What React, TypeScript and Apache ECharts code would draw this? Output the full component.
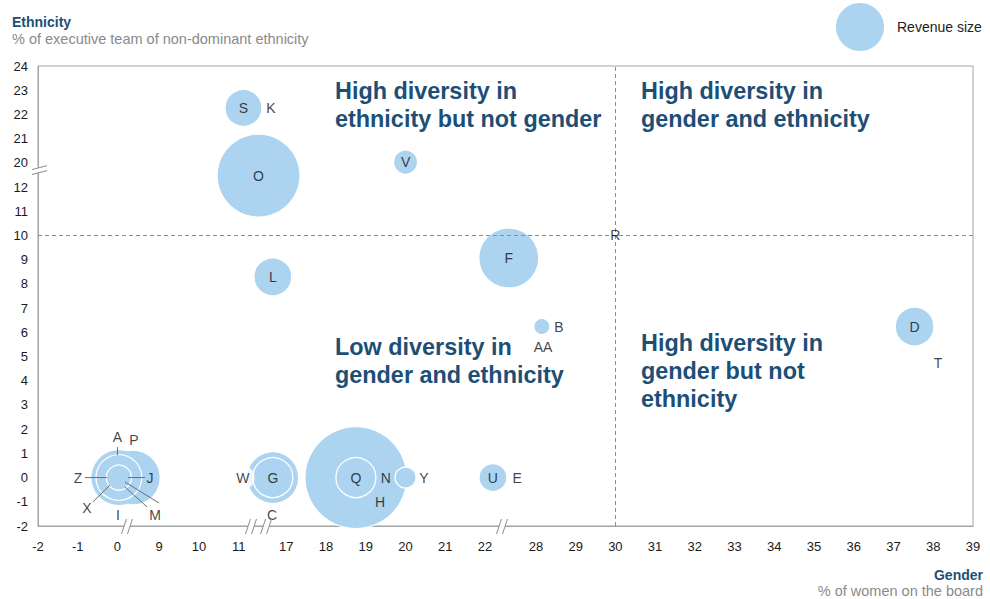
import React, { useEffect, useRef } from 'react';
import * as echarts from 'echarts';

// ---- axes (broken) ----
const xTickLabels = [-2, -1, 0, 9, 10, 11, 17, 18, 19, 20, 21, 22, 28, 29, 30, 31, 32, 33, 34, 35, 36, 37, 38, 39];
const xBreakAfter = [0, 11, 22];
const xBreakGap = [0.05, 0.2, 0.28];
const yTickLabels = [-2, -1, 0, 1, 2, 3, 4, 5, 6, 7, 8, 9, 10, 11, 12, 20, 21, 22, 23, 24];
const yBreakAfter = [12];
const yBreakGap = [0];

// ---- bubbles: gender (% women on board), ethnicity (% exec team), revenue ----
const bubbleNames = ['H', 'O', 'F', 'P', 'A', 'W', 'X', 'G', 'Q', 'D', 'L', 'S', 'U', 'M', 'V', 'Y', 'B'];
const bubbleGender = [18.75, 13.5, 24.8, 3.35, 0.3, 15.3, 0.3, 15.3, 18.75, 37.53, 15.3, 11.6, 22.93, 0.3, 20.0, 20.0, 28.15];
const bubbleEthnicity = [0, 15.8, 9.07, 0, 0, 0, 0, 0, 0, 6.24, 8.29, 22.27, 0, 0, 20.03, 0, 6.24];
const bubbleRevenue = [104, 69, 36, 30, 30, 27, 21, 16, 16, 15, 14.4, 13.7, 7.8, 6.3, 5.8, 4.4, 2.6];
const unoutlinedBubbles = ['A'];

// ---- company labels ----
const labelNames = ['S', 'K', 'O', 'V', 'L', 'F', 'B', 'AA', 'R', 'D', 'T', 'G', 'W', 'C', 'Q', 'N', 'H', 'Y', 'U', 'E', 'A', 'P', 'Z', 'J', 'X', 'M', 'I'];
const labelGender = [11.6, 15.07, 13.5, 20.0, 15.3, 24.8, 28.58, 28.18, 30, 37.53, 38.12, 15.3, 11.54, 15.2, 18.75, 19.5, 19.36, 20.46, 22.93, 25.8, 0, 3.56, -0.99, 7.0, -0.77, 8.1, 0.1];
const labelEthnicity = [22.27, 22.27, 15.8, 20.03, 8.29, 9.07, 6.24, 5.39, 10, 6.24, 4.73, 0, 0, -1.55, 0, 0, -1.0, 0, 0, 0, 1.68, 1.55, 0, 0, -1.26, -1.55, -1.55];

// ---- leader lines ----
const leaderX1 = [0, -0.82, 2.27, -0.62, 1.62, 1.62];
const leaderY1 = [1.26, 0, 0, -1.01, -0.18, -0.39];
const leaderX2 = [0, -0.26, 5.94, -0.19, 8.95, 6.37];
const leaderY2 = [0.93, 0, 0, -0.31, -1.05, -1.21];

// ---- thresholds & break marks ----
const genderThreshold = 30;
const ethnicityThreshold = 10;
const xBreakMarks = [2.05, 12.55, 14.45, 24.0];
const yBreakMarks = [17.6];

const BLUE = '#1d4f76';
const BUBBLE = '#acd3ef';
const GREY_TXT = '#8a8a8a';
const FONT = '"Liberation Sans", Arial, sans-serif';

function buildSlots(ticks: number[], after: number[], gaps: number[]) {
  const slots: number[] = [];
  let extra = 0;
  for (let i = 0; i < ticks.length; i++) {
    if (i > 0) {
      after.forEach((b, k) => {
        if (ticks[i - 1] === b) extra += gaps[k];
      });
    }
    slots.push(i + extra);
  }
  return slots;
}
const xSlots = buildSlots(xTickLabels, xBreakAfter, xBreakGap);
const ySlots = buildSlots(yTickLabels, yBreakAfter, yBreakGap);

function toSlot(v: number, ticks: number[], slots: number[]) {
  let i = 0;
  while (i < ticks.length - 2 && v > ticks[i + 1]) i++;
  const t = (v - ticks[i]) / (ticks[i + 1] - ticks[i]);
  return slots[i] + t * (slots[i + 1] - slots[i]);
}
const xs = (v: number) => toSlot(v, xTickLabels, xSlots);
const ys = (v: number) => toSlot(v, yTickLabels, ySlots);

function findLabel(val: number, slots: number[], labels: number[]) {
  const i = slots.findIndex((s) => Math.abs(s - val) < 1e-4);
  return i >= 0 ? String(labels[i]) : '';
}

export default function App() {
  const ref = useRef<HTMLDivElement>(null);
  useEffect(() => {
    document.body.style.margin = '0';
    if (!ref.current) return;
    const chart = echarts.init(ref.current, undefined, { renderer: 'svg' });

    const bubbleData = bubbleNames.map((n, i) => ({
      name: n,
      value: [xs(bubbleGender[i]), ys(bubbleEthnicity[i])],
      symbolSize: 10 * Math.sqrt(bubbleRevenue[i]),
      itemStyle: unoutlinedBubbles.includes(n)
        ? { borderWidth: 0 }
        : { borderColor: '#ffffff', borderWidth: 1.3 },
    }));

    const labelData = labelNames.map((n, i) => {
      const item: any = { name: n, value: [xs(labelGender[i]), ys(labelEthnicity[i])] };
      if (n === 'W') {
        item.label = { backgroundColor: '#ffffff', padding: [5, 5], borderRadius: 12 };
      }
      return item;
    });

    const leaderData = leaderX1.map((_, i) => [xs(leaderX1[i]), ys(leaderY1[i]), xs(leaderX2[i]), ys(leaderY2[i])]);

    const xMin = xSlots[0];
    const xMax = xSlots[xSlots.length - 1];
    const yMin = ySlots[0];
    const yMax = ySlots[ySlots.length - 1];

    const breakData = [
      ...xBreakMarks.map((v) => [xs(v), yMin, 0]),
      ...yBreakMarks.map((v) => [xMin, ys(v), 1]),
    ];

    const axisColor = '#a3a3a3';

    const option: any = {
      animation: false,
      grid: { left: 38, right: 17, top: 66, bottom: 73, containLabel: false, show: true, borderColor: axisColor, borderWidth: 1 },
      xAxis: {
        type: 'value',
        min: xMin,
        max: xMax,
        splitLine: { show: false },
        axisTick: { show: false },
        axisLine: { show: true, lineStyle: { color: axisColor } },
        axisLabel: {
          customValues: xSlots,
          formatter: (v: number) => findLabel(v, xSlots, xTickLabels),
          color: '#1a1a1a',
          fontSize: 13,
          fontFamily: FONT,
          margin: 14,
        },
      },
      yAxis: {
        type: 'value',
        min: yMin,
        max: yMax,
        interval: 1,
        splitLine: { show: false },
        axisTick: { show: false },
        axisLine: { show: true, lineStyle: { color: axisColor } },
        axisLabel: {
          customValues: ySlots,
          formatter: (v: number) => findLabel(v, ySlots, yTickLabels),
          color: '#1a1a1a',
          fontSize: 13,
          fontFamily: FONT,
          margin: 10,
        },
      },
      series: [
        {
          name: 'Revenue size',
          type: 'scatter',
          data: bubbleData,
          itemStyle: { color: BUBBLE, opacity: 1 },
          emphasis: { disabled: true },
          silent: true,
          z: 2,
          markLine: {
            silent: true,
            symbol: 'none',
            label: { show: false },
            lineStyle: { color: '#8c8c8c', type: [4, 3], width: 1 },
            data: [{ xAxis: xs(genderThreshold) }, { yAxis: ys(ethnicityThreshold) }],
          },
        },
        {
          name: 'leaders',
          type: 'custom',
          data: leaderData,
          encode: { x: [0, 2], y: [1, 3] },
          silent: true,
          z: 4,
          renderItem: (_p: any, api: any) => {
            const a = api.coord([api.value(0), api.value(1)]);
            const b = api.coord([api.value(2), api.value(3)]);
            return {
              type: 'line',
              shape: { x1: a[0], y1: a[1], x2: b[0], y2: b[1] },
              style: { stroke: '#6f6f6f', lineWidth: 1 },
            };
          },
        },
        {
          name: 'labels',
          type: 'scatter',
          data: labelData,
          symbolSize: 1,
          itemStyle: { color: 'rgba(0,0,0,0)' },
          silent: true,
          z: 5,
          label: {
            show: true,
            position: 'inside',
            formatter: (p: any) => p.name,
            color: '#111111',
            fontSize: 14,
            fontFamily: FONT,
          },
        },
        {
          name: 'breaks',
          type: 'custom',
          data: breakData,
          clip: false,
          silent: true,
          z: 10,
          renderItem: (_p: any, api: any) => {
            const p = api.coord([api.value(0), api.value(1)]);
            const vertical = api.value(2) === 1;
            const stroke = { stroke: '#8c8c8c', lineWidth: 1 };
            if (!vertical) {
              return {
                type: 'group',
                children: [
                  { type: 'rect', shape: { x: p[0] - 3, y: p[1] - 2, width: 6, height: 4 }, style: { fill: '#ffffff' } },
                  { type: 'line', shape: { x1: p[0] - 5.5, y1: p[1] + 8, x2: p[0] - 0.5, y2: p[1] - 7 }, style: stroke },
                  { type: 'line', shape: { x1: p[0] + 0.5, y1: p[1] + 8, x2: p[0] + 5.5, y2: p[1] - 7 }, style: stroke },
                ],
              };
            }
            return {
              type: 'group',
              children: [
                { type: 'rect', shape: { x: p[0] - 2, y: p[1] - 2.5, width: 4, height: 5 }, style: { fill: '#ffffff' } },
                { type: 'line', shape: { x1: p[0] - 6, y1: p[1] - 0.5, x2: p[0] + 9, y2: p[1] - 4.5 }, style: stroke },
                { type: 'line', shape: { x1: p[0] - 6, y1: p[1] + 4.5, x2: p[0] + 9, y2: p[1] + 0.5 }, style: stroke },
              ],
            };
          },
        },
      ],
      graphic: [
        { type: 'text', style: { x: 12, y: 21.5, text: 'Ethnicity', font: `bold 14px ${FONT}`, fill: BLUE, verticalAlign: 'middle' } },
        { type: 'text', style: { x: 12, y: 38.5, text: '% of executive team of non-dominant ethnicity', font: `14.5px ${FONT}`, fill: GREY_TXT, verticalAlign: 'middle' } },
        { type: 'text', style: { x: 983, y: 575, text: 'Gender', font: `bold 14px ${FONT}`, fill: BLUE, align: 'right', verticalAlign: 'middle' } },
        { type: 'text', style: { x: 983, y: 590.5, text: '% of women on the board', font: `14.5px ${FONT}`, fill: GREY_TXT, align: 'right', verticalAlign: 'middle' } },
        { type: 'circle', shape: { cx: 860, cy: 27, r: 24 }, style: { fill: BUBBLE } },
        { type: 'text', style: { x: 897, y: 27, text: 'Revenue size', font: `14px ${FONT}`, fill: '#222222', verticalAlign: 'middle' } },
        { type: 'text', style: { x: 335, y: 77, text: 'High diversity in\nethnicity but not gender', font: `bold 23.4px ${FONT}`, lineHeight: 28, fill: BLUE, verticalAlign: 'top' } },
        { type: 'text', style: { x: 641, y: 77, text: 'High diversity in\ngender and ethnicity', font: `bold 23.4px ${FONT}`, lineHeight: 28, fill: BLUE, verticalAlign: 'top' } },
        { type: 'text', style: { x: 335, y: 333, text: 'Low diversity in\ngender and ethnicity', font: `bold 23.4px ${FONT}`, lineHeight: 28, fill: BLUE, verticalAlign: 'top' } },
        { type: 'text', style: { x: 641, y: 329, text: 'High diversity in\ngender but not\nethnicity', font: `bold 23.4px ${FONT}`, lineHeight: 28, fill: BLUE, verticalAlign: 'top' } },
      ],
    };
    chart.setOption(option);
    return () => chart.dispose();
  }, []);
  return <div ref={ref} style={{ width: 990, height: 599 }} />;
}
